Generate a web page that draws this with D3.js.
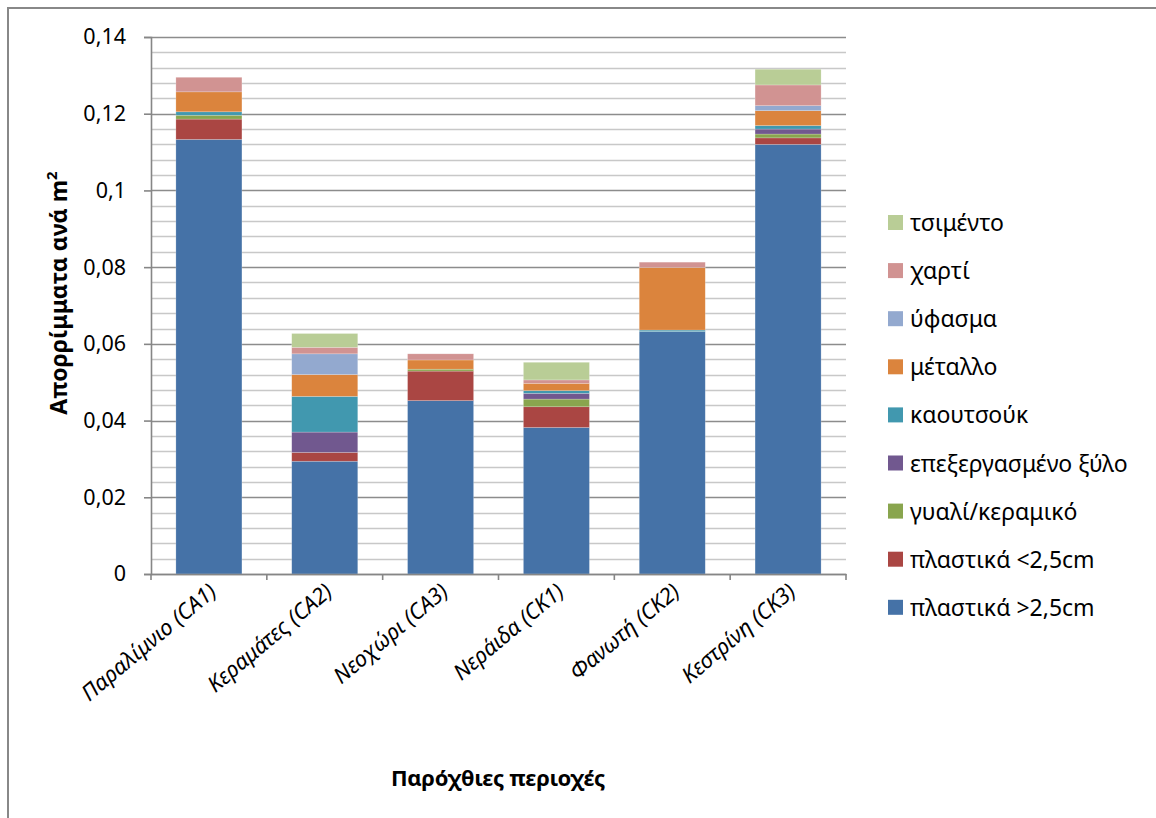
<!DOCTYPE html>
<html><head><meta charset="utf-8">
<script src="https://cdn.jsdelivr.net/npm/d3@7"></script>
<style>body{margin:0;background:#fff;} text{font-family:"Noto Sans","Open Sans",sans-serif;}</style>
</head><body>
<svg id="chart" width="1156" height="818"></svg>
<script>
const categories = ["Παραλίμνιο (CA1)", "Κεραμάτες (CA2)", "Νεοχώρι (CA3)", "Νεράιδα (CK1)", "Φανωτή (CK2)", "Κεστρίνη (CK3)"];
const seriesNames = ["πλαστικά >2,5cm", "πλαστικά <2,5cm", "γυαλί/κεραμικό", "επεξεργασμένο ξύλο", "καουτσούκ", "μέταλλο", "ύφασμα", "χαρτί", "τσιμέντο"];
const plasticLarge = [0.1133, 0.0294, 0.0452, 0.0382, 0.0632, 0.1120];
const plasticSmall = [0.0053, 0.0023, 0.0077, 0.0054, 0.0000, 0.0017];
const glass        = [0.0010, 0.0000, 0.0005, 0.0020, 0.0000, 0.0010];
const wood         = [0.0000, 0.0053, 0.0000, 0.0015, 0.0000, 0.0013];
const rubber       = [0.0009, 0.0093, 0.0000, 0.0007, 0.0004, 0.0009];
const metal        = [0.0052, 0.0057, 0.0024, 0.0019, 0.0163, 0.0039];
const fabric       = [0.0000, 0.0054, 0.0000, 0.0000, 0.0000, 0.0013];
const paper        = [0.0038, 0.0017, 0.0016, 0.0009, 0.0014, 0.0054];
const cement       = [0.0000, 0.0036, 0.0000, 0.0046, 0.0000, 0.0041];
const seriesValues = [plasticLarge, plasticSmall, glass, wood, rubber, metal, fabric, paper, cement];
const colors = ["#4572A7", "#AA4643", "#89A54E", "#71588F", "#4198AF", "#DB843D", "#93A9CF", "#D19392", "#B9CD96"];
const yTicks = [0, 0.02, 0.04, 0.06, 0.08, 0.1, 0.12, 0.14];
const yTickLabels = ["0", "0,02", "0,04", "0,06", "0,08", "0,1", "0,12", "0,14"];

const svg = d3.select("#chart");
// outer border
svg.append("path").attr("d", "M8,818 V8 H1156").attr("fill","none").attr("stroke","#888").attr("stroke-width",2);

const pLeft = 151, pRight = 846, pTop = 37, pBottom = 574;
const x = d3.scaleBand().domain(categories).range([pLeft, pRight]).paddingInner(0.43).paddingOuter(0.215);
const y = d3.scaleLinear().domain([0, 0.14]).range([pBottom, pTop]);

// gridlines
const minor = d3.range(0, 0.1401, 0.004).map(v => +v.toFixed(3));
svg.append("g").selectAll("line").data(minor).join("line")
  .attr("x1", pLeft).attr("x2", pRight)
  .attr("y1", d => Math.round(y(d)) + 0.5).attr("y2", d => Math.round(y(d)) + 0.5)
  .attr("stroke", d => (Math.abs(d / 0.02 - Math.round(d / 0.02)) < 1e-6) ? "#8c8c8c" : "#c8c8c8")
  .attr("stroke-width", 1.6);

// stacked bars
const rows = categories.map((c, i) => { const o = {cat: c}; seriesNames.forEach((s, j) => o[s] = seriesValues[j][i]); return o; });
const stack = d3.stack().keys(seriesNames)(rows);
svg.append("g").selectAll("g").data(stack).join("g")
  .attr("fill", (d, i) => colors[i])
  .selectAll("rect").data(d => d).join("rect")
  .attr("x", d => x(d.data.cat)).attr("width", x.bandwidth())
  .attr("y", d => y(d[1])).attr("height", d => Math.max(0, y(d[0]) - y(d[1])))
  .attr("stroke", "rgba(255,255,255,0.35)").attr("stroke-width", 0.6);

// y axis
const yAxis = d3.axisLeft(y).tickValues(yTicks).tickFormat((d, i) => yTickLabels[i]).tickSize(7).tickPadding(18);
const gy = svg.append("g").attr("transform", `translate(${pLeft},0)`).call(yAxis);
gy.select(".domain").attr("stroke", "#868686").attr("stroke-width", 1.6);
gy.selectAll(".tick line").attr("stroke", "#868686").attr("stroke-width", 1.6);
gy.selectAll(".tick text").attr("font-size", 21.5).attr("fill", "#000").style("font-family", "'Noto Sans'");

// x axis
const xAxis = d3.axisBottom(x).tickSize(0).tickFormat("");
const gx = svg.append("g").attr("transform", `translate(0,${pBottom})`).call(xAxis);
gx.select(".domain").attr("stroke", "#868686").attr("stroke-width", 1.6);
const bounds = d3.range(categories.length + 1).map(i => pLeft + i * (pRight - pLeft) / categories.length);
gx.selectAll(".bt").data(bounds).join("line").attr("class","bt")
  .attr("x1", d => d).attr("x2", d => d).attr("y1", 0).attr("y2", 6)
  .attr("stroke", "#868686").attr("stroke-width", 1.6);

svg.append("g").selectAll("text").data(categories).join("text")
  .attr("transform", d => `translate(${x(d) + x.bandwidth() / 2 + 4},${pBottom + 14}) rotate(-40)`)
  .attr("text-anchor", "end").attr("font-size", 22).attr("font-style", "italic")
  .attr("dy", "0.35em").text(d => d);

// axis titles
svg.append("text").attr("x", 498).attr("y", 786).attr("text-anchor", "middle")
  .attr("font-size", 22).attr("font-weight", "bold").attr("letter-spacing", -0.3).text("Παρόχθιες περιοχές");
const yt = svg.append("text").attr("transform", "translate(67,293) rotate(-90)").attr("text-anchor", "middle")
  .attr("font-size", 23).attr("font-weight", "bold");
yt.append("tspan").text("Απορρίμματα ανά m");
yt.append("tspan").attr("font-size", 15).attr("dy", -10).text("2");

// legend
const legendOrder = seriesNames.map((s, i) => i).reverse();
const lg = svg.append("g").selectAll("g").data(legendOrder).join("g")
  .attr("transform", (d, k) => `translate(888,${223 + k * 48.1})`);
lg.append("rect").attr("x", 0).attr("y", -8).attr("width", 15).attr("height", 15).attr("fill", d => colors[d]);
lg.append("text").attr("x", 22).attr("y", 0).attr("dy", "0.35em").attr("font-size", 23).text(d => seriesNames[d]);
</script>
</body></html>
